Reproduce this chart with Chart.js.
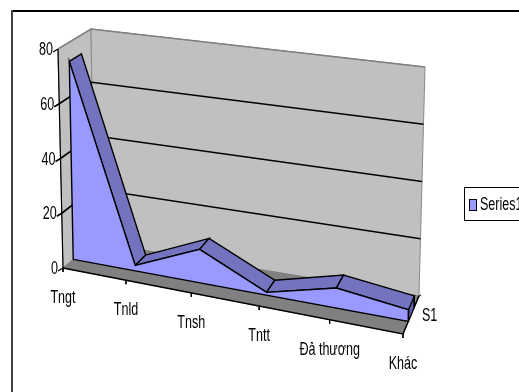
<!DOCTYPE html>
<html>
<head>
<meta charset="utf-8">
<title>Chart</title>
<script src="https://cdn.jsdelivr.net/npm/chart.js@4"></script>
<style>
    html, body { margin: 0; padding: 0; background: #fff; overflow: hidden; }
    canvas { display: block; }
</style>
</head>
<body>
<canvas id="area-chart" width="519" height="392"></canvas>
<script>
const categories = ['Tngt', 'Tnld', 'Tnsh', 'Tntt', 'Đả thương', 'Khác'];
const seriesValues = [73, 2, 12, 1, 7, 4];
const valueTicks = [0, 20, 40, 60, 80];
const seriesName = 'Series1';
const depthLabel = 'S1';

// Corners of the 3D box in canvas pixels (front/back, left/right, bottom/top)
const box = {
    flb: [63, 268], flt: [58, 49],
    blb: [94, 242], blt: [91, 29],
    frb: [403, 334], frt: [410, 99],
    brb: [419, 296], brt: [425, 67]
};
const valueMax = 80;
const perspective = 1.1;
const depthFront = 0.33;
const depthBack = 0.7;

const mix = (a, b, t) => [a[0] + (b[0] - a[0]) * t, a[1] + (b[1] - a[1]) * t];

// Map category index, value and depth (0 front, 1 back) to canvas coordinates
function project(index, value, depth) {
    const t = index / (categories.length - 1);
    const u = t / (perspective - (perspective - 1) * t);
    const v = value / valueMax;
    const left = mix(mix(box.flb, box.blb, depth), mix(box.flt, box.blt, depth), v);
    const right = mix(mix(box.frb, box.brb, depth), mix(box.frt, box.brt, depth), v);
    const p = mix(left, right, u);
    return { x: p[0], y: p[1] };
}

function shape(points, fill, stroke, width) {
    return {
        data: [...points, points[0]],
        showLine: true,
        fill: 'shape',
        backgroundColor: fill,
        borderColor: stroke,
        borderWidth: width,
        pointRadius: 0,
        tension: 0
    };
}

function line(points, stroke, width) {
    return {
        data: points,
        showLine: true,
        fill: false,
        borderColor: stroke,
        borderWidth: width,
        pointRadius: 0,
        tension: 0
    };
}

function buildDatasets() {
    const last = categories.length - 1;
    const sets = [];

    // walls and floor
    sets.push(shape([project(0, 0, 0), project(0, valueMax, 0), project(0, valueMax, 1), project(0, 0, 1)], '#c0c0c0', '#8a8a8a', 1));
    sets.push(shape([project(0, 0, 1), project(0, valueMax, 1), project(last, valueMax, 1), project(last, 0, 1)], '#c0c0c0', '#8a8a8a', 1));
    sets.push(shape([project(0, 0, 0), project(0, 0, 1), project(last, 0, 1), project(last, 0, 0)], '#808080', '#808080', 1));

    // gridlines run along the left wall and the back wall
    valueTicks.forEach(v => {
        const front = project(0, v, 0);
        const tick = { x: front.x - 5, y: front.y + 3 };
        if (v === valueMax) {
            sets.push(line([tick, front], '#000', 1.2));
            sets.push(line([front, project(0, v, 1), project(last, v, 1)], '#808080', 1.5));
        } else if (v > 0) {
            sets.push(line([tick, front, project(0, v, 1), project(last, v, 1)], '#000', 1.6));
        } else {
            sets.push(line([tick, front], '#000', 1.2));
        }
    });

    // axis lines and category ticks
    sets.push(line([project(0, 0, 0), project(0, valueMax, 0)], '#000', 1.2));
    sets.push(line([project(0, 0, 0), project(last, 0, 0), project(last, 0, 1)], '#000', 1.5));
    categories.forEach((c, i) => {
        const p = project(i, 0, 0);
        sets.push(line([p, { x: p.x, y: p.y + 4 }], '#000', 1));
    });
    const backCorner = project(last, 0, 1);
    sets.push(line([backCorner, { x: backCorner.x + 2, y: backCorner.y - 1 }], '#000', 1));

    // top strip of the area, one quad per segment
    for (let i = 0; i < last; i++) {
        sets.push(shape([
            project(i, seriesValues[i], depthFront),
            project(i, seriesValues[i], depthBack),
            project(i + 1, seriesValues[i + 1], depthBack),
            project(i + 1, seriesValues[i + 1], depthFront)
        ], '#7373bf', '#000', 1.4));
    }

    // end cap on the right
    sets.push(shape([
        project(last, 0, depthFront),
        project(last, seriesValues[last], depthFront),
        project(last, seriesValues[last], depthBack),
        project(last, 0, depthBack)
    ], '#5c5cac', '#000', 1));

    // front face of the area
    const top = seriesValues.map((v, i) => project(i, v, depthFront));
    sets.push(shape([project(0, 0, depthFront), ...top, project(last, 0, depthFront)], '#9999ff', '#000', 1.4));

    // the first dataset ends up on top, so flip the painter's order
    return sets.reverse();
}

// Arial-like text squeezed horizontally
function squeezedText(ctx, text, x, y, align) {
    ctx.save();
    ctx.translate(x, y);
    ctx.scale(0.66, 1);
    ctx.textAlign = align;
    ctx.textBaseline = 'middle';
    ctx.fillStyle = '#000';
    ctx.font = '19px "Liberation Sans", Arial, sans-serif';
    ctx.fillText(text, 0, 0);
    ctx.restore();
}

const annotations = {
    id: 'annotations',
    afterDraw(chart) {
        const ctx = chart.ctx;
        ctx.save();

        // outer frame, only the top and left edges are in view
        ctx.fillStyle = '#000';
        ctx.fillRect(12, 10, 507, 2);
        ctx.fillStyle = '#404040';
        ctx.fillRect(11, 10, 2, 382);

        valueTicks.forEach(v => {
            const p = project(0, v, 0);
            squeezedText(ctx, String(v), p.x - 5, p.y + 1, 'right');
        });
        categories.forEach((c, i) => {
            const p = project(i, 0, 0);
            squeezedText(ctx, c, p.x, p.y + 30, 'center');
        });
        const corner = project(categories.length - 1, 0, 1);
        squeezedText(ctx, depthLabel, corner.x + 3, corner.y + 20, 'left');

        // legend box runs past the right edge of the canvas
        ctx.strokeStyle = '#000';
        ctx.lineWidth = 1;
        ctx.fillStyle = '#fff';
        ctx.fillRect(464.5, 187.5, 60, 33);
        ctx.strokeRect(464.5, 187.5, 60, 33);
        ctx.fillStyle = '#9999ff';
        ctx.fillRect(469.5, 199.5, 7, 11);
        ctx.strokeRect(469.5, 199.5, 7, 11);
        squeezedText(ctx, seriesName, 480, 205, 'left');

        ctx.restore();
    }
};

function createChart() {
    const ctx = document.getElementById('area-chart').getContext('2d');
    new Chart(ctx, {
        type: 'scatter',
        data: { datasets: buildDatasets() },
        options: {
            responsive: false,
            animation: false,
            layout: { padding: 0 },
            plugins: {
                legend: { display: false },
                tooltip: { enabled: false }
            },
            scales: {
                x: { type: 'linear', min: 0, max: 519, display: false },
                y: { type: 'linear', min: 0, max: 392, reverse: true, display: false }
            }
        },
        plugins: [annotations]
    });
}

createChart();
</script>
</body>
</html>
